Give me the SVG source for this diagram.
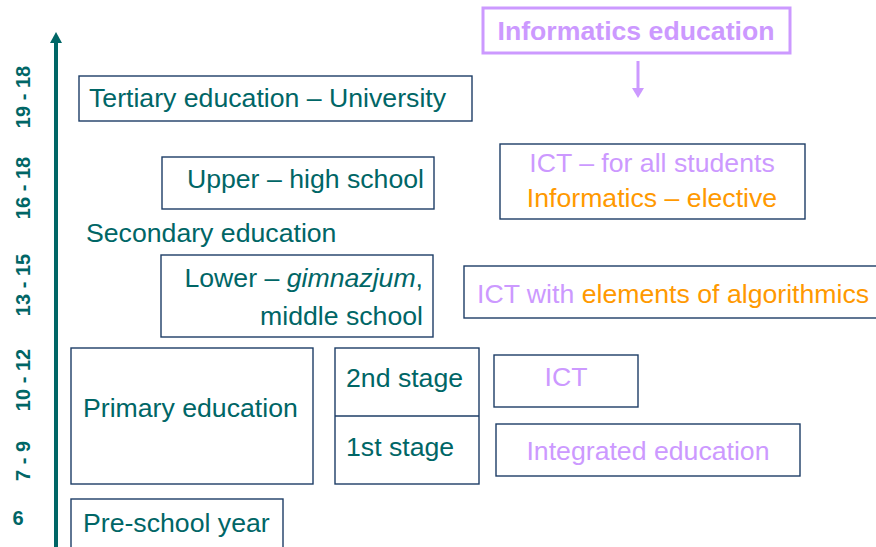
<svg xmlns="http://www.w3.org/2000/svg" width="876" height="547" viewBox="0 0 876 547">
<style>
  text { font-family: "Liberation Sans", Arial, sans-serif; }
  .t { font-size: 26.67px; fill: #006666; }
  .lav { fill: #cc99ff; }
  .org { fill: #ff9900; }
  .age { font-size: 20px; font-weight: bold; fill: #006666; }
  .box { fill: #ffffff; stroke: #1d3d66; stroke-width: 1.4; }
</style>
<rect width="876" height="547" fill="#ffffff"/>
<g id="axis">
  <line x1="56" y1="547" x2="56" y2="42" stroke="#006666" stroke-width="4"/>
  <polygon points="50,43 62,43 56,32" fill="#006666"/>
  <text class="age" x="30" y="97" text-anchor="middle" transform="rotate(-90 30 97)">19 - 18</text>
  <text class="age" x="30" y="188" text-anchor="middle" transform="rotate(-90 30 188)">16 - 18</text>
  <text class="age" x="30" y="285" text-anchor="middle" transform="rotate(-90 30 285)">13 - 15</text>
  <text class="age" x="30" y="380" text-anchor="middle" transform="rotate(-90 30 380)">10 - 12</text>
  <text class="age" x="30" y="461" text-anchor="middle" transform="rotate(-90 30 461)">7 - 9</text>
  <text class="age" x="18" y="525" text-anchor="middle">6</text>
</g>
<g id="tertiary">
  <rect class="box" x="79" y="76" width="393" height="45"/>
  <text class="t" x="89" y="107">Tertiary education – University</text>
</g>
<g id="upper">
  <rect class="box" x="162" y="157" width="272" height="52"/>
  <text class="t" x="424" y="188" text-anchor="end">Upper – high school</text>
</g>
<g id="secondary">
  <text class="t" x="86" y="242">Secondary education</text>
</g>
<g id="lower">
  <rect class="box" x="161" y="255" width="272" height="82"/>
  <text class="t" x="423" y="287" text-anchor="end">Lower – <tspan font-style="italic">gimnazjum</tspan>,</text>
  <text class="t" x="423" y="325" text-anchor="end">middle school</text>
</g>
<g id="primary">
  <rect class="box" x="71" y="348" width="242" height="136"/>
  <text class="t" x="83" y="417">Primary education</text>
</g>
<g id="stages">
  <rect class="box" x="335" y="348" width="144" height="136"/>
  <line x1="335" y1="416" x2="479" y2="416" stroke="#1d3d66" stroke-width="1.4"/>
  <text class="t" x="346" y="387">2nd stage</text>
  <text class="t" x="346" y="456">1st stage</text>
</g>
<g id="preschool">
  <rect class="box" x="71" y="499" width="212" height="60"/>
  <text class="t" x="83" y="532">Pre-school year</text>
</g>
<g id="informatics">
  <rect x="483" y="8" width="307" height="45" fill="#ffffff" stroke="#cc99ff" stroke-width="3"/>
  <text class="t lav" x="636" y="40" text-anchor="middle" font-weight="bold">Informatics education</text>
</g>
<g id="connectors">
  <line x1="638" y1="61" x2="638" y2="89" stroke="#cc99ff" stroke-width="3"/>
  <polygon points="632,88 644,88 638,98" fill="#cc99ff"/>
</g>
<g id="ict-all">
  <rect class="box" x="500" y="144" width="305" height="75"/>
  <text class="t lav" x="652" y="172" text-anchor="middle">ICT – for all students</text>
  <text class="t org" x="652" y="207" text-anchor="middle">Informatics – elective</text>
</g>
<g id="ict-algo">
  <rect class="box" x="464" y="266" width="430" height="52"/>
  <text class="t" x="477" y="303"><tspan class="lav">ICT with </tspan><tspan class="org">elements of algorithmics</tspan></text>
</g>
<g id="ict">
  <rect class="box" x="494" y="355" width="144" height="52"/>
  <text class="t lav" x="566" y="386" text-anchor="middle">ICT</text>
</g>
<g id="integrated">
  <rect class="box" x="496" y="424" width="304" height="52"/>
  <text class="t lav" x="648" y="460" text-anchor="middle">Integrated education</text>
</g>
</svg>
